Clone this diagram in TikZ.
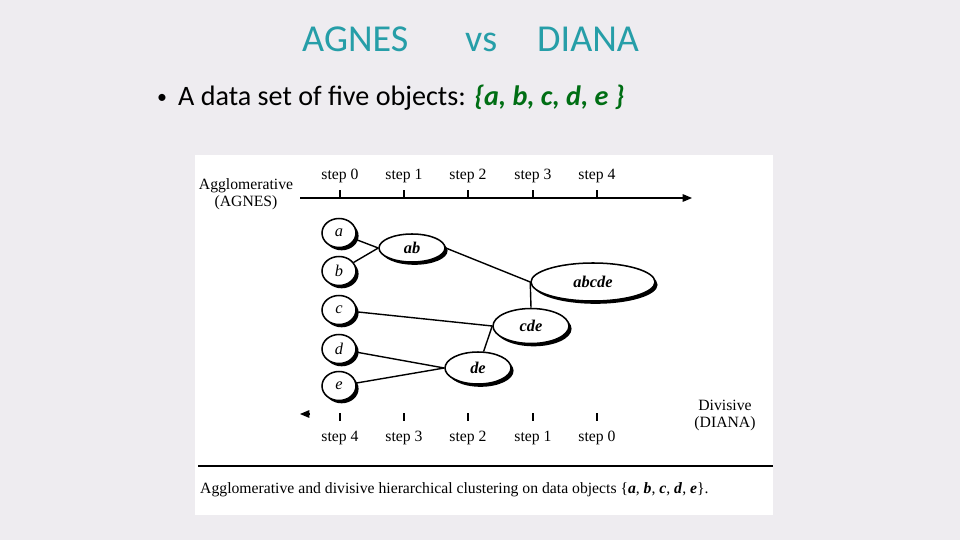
\documentclass[tikz,border=0pt]{standalone}
\usepackage{fontspec}
\setmainfont{Liberation Serif}
\newfontfamily\slidefont{Carlito}
\usetikzlibrary{shapes.geometric, arrows.meta, shadows}
\definecolor{slidebg}{RGB}{238, 236, 240}
\definecolor{titleteal}{RGB}{38, 158, 168}
\definecolor{setgreen}{RGB}{0, 110, 20}

\begin{document}
\begin{tikzpicture}[x=0.03cm, y=-0.03cm,
  leaf/.style={ellipse, draw, fill=white, line width=1.3pt, inner sep=0pt,
               minimum width=34*0.03cm, minimum height=29*0.03cm,
               drop shadow={shadow xshift=2.2pt, shadow yshift=-2.4pt, fill=black, opacity=1},
               font=\fontsize{14}{16}\selectfont\itshape},
  clus/.style={leaf, font=\fontsize{14}{16}\selectfont\bfseries\itshape},
  lbl/.style={font=\fontsize{13.4}{15}\selectfont, inner sep=0pt},
  ttl/.style={anchor=base west, inner sep=0pt, text=titleteal, font=\slidefont\fontsize{32.5}{36}\selectfont},
  conn/.style={line width=1.2pt},
  axis/.style={line width=1pt, -{Triangle[length=8pt, width=6.5pt]}}
]
  \useasboundingbox[fill=slidebg] (0,0) rectangle (960,540);

  % slide title and bullet
  \node[ttl] (t1) at (302,52) {AGNES};
  \node[ttl] (t2) at (465,52) {vs};
  \node[ttl] (t3) at (537,52) {DIANA};
  \node[anchor=base west, inner sep=0pt, font=\slidefont\fontsize{17}{20}\selectfont] (dot) at (157,104) {•};
  \node[anchor=base west, inner sep=0pt, font=\slidefont\fontsize{24}{28}\selectfont] (set) at (178,106)
    {A data set of five objects: \textcolor{setgreen}{\bfseries\itshape \{a, b, c, d, e \}}};

  % figure panel
  \fill[white] (195,155) rectangle (773,515);

  \node[lbl, anchor=base] (agg1) at (246,189) {Agglomerative};
  \node[lbl, anchor=base] (agg2) at (246,207) {(AGNES)};
  \node[lbl, anchor=base] (div1) at (725,410) {Divisive};
  \node[lbl, anchor=base] (div2) at (725,427) {(DIANA)};

  % axes
  \coordinate (tl) at (300,198);
  \coordinate (tr) at (692,198);
  \draw[axis] (tl) -- (tr);
  \coordinate (bl) at (300,414);
  \coordinate (br) at (310,414);
  \draw[axis] (br) -- (bl);
  \foreach \x [count=\i from 0] in {340,404,468,533,597} {
    \draw[line width=0.9pt] (\x,198) -- (\x,190);
    \node[lbl, anchor=base] (up\i) at (\x,180) {step \i};
    \draw[line width=0.9pt] (\x,413) -- (\x,421);
  }
  \foreach \x [count=\i from 0] in {597,533,468,404,340} {
    \node[lbl, anchor=base] (dn\i) at (\x,441) {step \i};
  }

  % objects
  \node[leaf] (a) at (339,233) {a};
  \node[leaf] (b) at (339,271) {b};
  \node[leaf] (c) at (339,310) {c};
  \node[leaf] (d) at (339,349) {d};
  \node[leaf] (e) at (339,386) {e};

  % clusters
  \node[clus, minimum width=66*0.03cm, minimum height=28*0.03cm] (ab) at (412,248) {ab};
  \node[clus, minimum width=124*0.03cm, minimum height=38*0.03cm] (abcde) at (593,282) {abcde};
  \node[clus, minimum width=76*0.03cm, minimum height=35*0.03cm] (cde) at (531,326) {cde};
  \node[clus, minimum width=66*0.03cm, minimum height=32*0.03cm] (de) at (478,368) {de};

  \draw[conn] (a) -- (ab.west);
  \draw[conn] (b) -- (ab.west);
  \draw[conn] (ab.east) -- (abcde.west);
  \draw[conn] (abcde.west) -- (cde.north);
  \draw[conn] (c) -- (cde.west);
  \draw[conn] (de) -- (cde.west);
  \draw[conn] (d) -- (de.west);
  \draw[conn] (e) -- (de.west);

  % caption
  \coordinate (sl) at (198,466);
  \coordinate (sr) at (773,466);
  \draw[line width=0.9pt] (sl) -- (sr);
  \node[lbl, anchor=base west] (cap) at (200,493)
    {Agglomerative and divisive hierarchical clustering on data objects \{\textbf{\textit{a}}, \textbf{\textit{b}}, \textbf{\textit{c}}, \textbf{\textit{d}}, \textbf{\textit{e}}\}.};
\end{tikzpicture}
\end{document}
